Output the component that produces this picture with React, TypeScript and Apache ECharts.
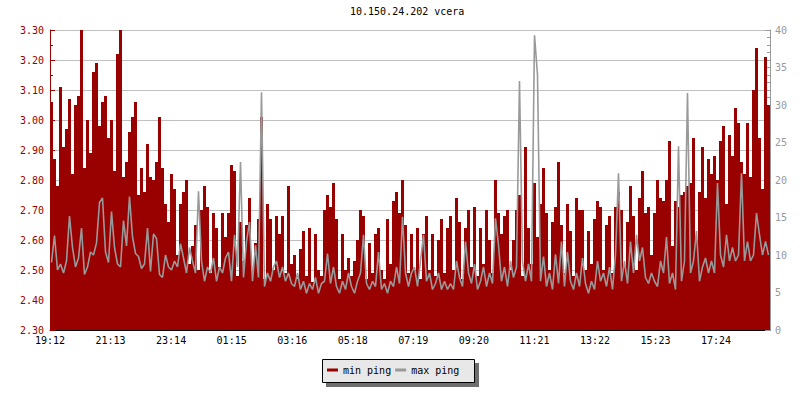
import React, { useEffect, useRef } from 'react';
import * as echarts from 'echarts';

const TITLE = '10.150.24.202 vcera';
const SERIES_NAMES = ['min ping', 'max ping'];
const TIME_LABELS = ['19:12', '21:13', '23:14', '01:15', '03:16', '05:18', '07:19', '09:20', '11:21', '13:22', '15:23', '17:24'];
const SPAN_MINUTES = 1440;
const SAMPLE_MINUTES = 6;
const LABEL_STEP_MINUTES = 121.1;

// min ping (ms), left axis, one value per 6-minute sample
const MIN_PING = [
  3.06, 2.87, 2.78, 3.11, 2.91, 2.97, 3.07, 2.82, 3.05, 3.08,
  3.30, 2.84, 3.00, 2.89, 3.16, 3.19, 2.98, 3.06, 3.08, 2.94,
  3.00, 2.83, 3.22, 3.30, 2.81, 2.86, 2.96, 3.01, 3.06, 2.75,
  2.84, 2.76, 2.92, 2.81, 2.80, 2.86, 3.01, 2.84, 2.72, 2.66,
  2.82, 2.77, 2.55, 2.72, 2.76, 2.80, 2.52, 2.58, 2.65, 2.50,
  2.70, 2.78, 2.71, 2.49, 2.69, 2.64, 2.51, 2.69, 2.61, 2.69,
  2.85, 2.83, 2.48, 2.66, 2.53, 2.65, 2.74, 2.50, 2.59, 2.67,
  3.01, 2.47, 2.72, 2.67, 2.50, 2.68, 2.62, 2.68, 2.49, 2.78,
  2.52, 2.55, 2.47, 2.57, 2.63, 2.48, 2.64, 2.46, 2.62, 2.50,
  2.48, 2.70, 2.75, 2.71, 2.79, 2.67, 2.47, 2.62, 2.50, 2.54,
  2.48, 2.53, 2.60, 2.70, 2.68, 2.47, 2.59, 2.49, 2.62, 2.64,
  2.50, 2.47, 2.67, 2.52, 2.73, 2.76, 2.69, 2.80, 2.65, 2.49,
  2.62, 2.50, 2.64, 2.47, 2.62, 2.68, 2.50, 2.62, 2.48, 2.60,
  2.67, 2.49, 2.64, 2.68, 2.50, 2.74, 2.66, 2.47, 2.64, 2.70,
  2.51, 2.71, 2.48, 2.64, 2.52, 2.70, 2.60, 2.49, 2.80, 2.69,
  2.62, 2.68, 2.70, 2.50, 2.60, 2.70, 2.75, 2.48, 2.91, 2.64,
  2.52, 2.79, 2.61, 2.72, 2.84, 2.69, 2.50, 2.66, 2.71, 2.86,
  2.65, 2.49, 2.72, 2.63, 2.48, 2.74, 2.70, 2.70, 2.50, 2.63,
  2.52, 2.67, 2.73, 2.71, 2.50, 2.65, 2.68, 2.49, 2.71, 2.76,
  2.70, 2.51, 2.66, 2.78, 2.68, 2.50, 2.74, 2.83, 2.69, 2.71,
  2.55, 2.69, 2.80, 2.74, 2.73, 2.80, 2.93, 2.58, 2.73, 2.71,
  2.75, 2.76, 2.78, 2.79, 2.94, 2.60, 2.76, 2.91, 2.74, 2.87,
  2.82, 2.88, 2.80, 2.93, 2.98, 2.72, 2.95, 2.88, 3.04, 2.99,
  2.86, 2.82, 2.99, 2.81, 3.10, 3.24, 2.94, 2.77, 3.21, 3.05,
];

// max ping (ms), right axis, one value per 6-minute sample
const MAX_PING = [
  9.0, 12.6, 8.0, 8.8, 7.6, 9.2, 15.2, 11.0, 8.4, 9.6,
  13.6, 7.4, 8.4, 10.4, 10.0, 11.6, 17.0, 17.6, 10.4, 9.0,
  15.8, 11.0, 8.8, 8.4, 14.6, 11.2, 17.8, 12.4, 10.2, 9.8,
  8.2, 8.8, 13.6, 7.8, 12.8, 12.2, 7.4, 7.0, 10.0, 8.4,
  8.0, 9.2, 8.4, 11.5, 9.6, 7.6, 11, 9.2, 7.6, 18.5,
  9.2, 6.5, 8.4, 7.6, 9.6, 6.5, 8.4, 7.6, 9.6, 10.4,
  6.5, 12.7, 8.4, 22.4, 7, 11.8, 14.4, 6.5, 11.3, 7,
  31.7, 5.8, 7.6, 6.5, 8.4, 9.2, 7, 8.4, 6.5, 7.6,
  6.2, 5.8, 7.6, 5.4, 6.5, 4.9, 6.2, 5.4, 7, 4.9,
  6.2, 6.5, 10.2, 6.2, 8.4, 5.8, 4.9, 6.5, 5.4, 7.6,
  5.8, 4.9, 6.5, 7.6, 12.7, 6.2, 5.4, 6.5, 5.8, 10.4,
  5.4, 6.2, 4.9, 6.5, 5.8, 8.4, 6.2, 15.1, 7.6, 5.8,
  7.6, 8.4, 5.8, 9.2, 12.7, 6.5, 7.6, 5.4, 6.2, 7.6,
  5.4, 6.5, 5.4, 6.2, 5.4, 9.2, 7, 5.8, 11.8, 7.6,
  6.2, 8.8, 5.4, 6.5, 8.4, 5.8, 7.6, 6.2, 14.9, 11.3,
  6.5, 8.4, 5.8, 9.2, 7, 8.4, 33.2, 9.2, 6.5, 8.8,
  6.5, 39.3, 34, 6.5, 9.8, 5.8, 7.6, 5.4, 10.1, 6.2,
  11.8, 5.8, 10.4, 6.5, 5.4, 7.6, 5.8, 9.6, 6.2, 4.9,
  6.5, 5.4, 9.2, 6.5, 7.6, 5.8, 8.4, 5.4, 10, 20.9,
  6.5, 9.2, 6.2, 11.8, 7.6, 12.7, 9.2, 11, 7, 6.2,
  7.6, 6.5, 5.8, 9.2, 7.6, 12.4, 6.2, 7.6, 5.4, 24.5,
  6.5, 9.2, 31.6, 7.6, 9.2, 13.2, 6.5, 8.4, 9.6, 7.6,
  9.2, 7.6, 19.6, 10, 8.4, 12.7, 9.2, 11, 9.2, 10,
  20.9, 9.2, 11.8, 9.2, 10, 15.6, 12.7, 10, 11.8, 10,
];

const RED = '#990000';
const GRAY = '#999999';
const GRID_GRAY = '#c0c0c0';
const MONO = '"DejaVu Sans Mono", "Liberation Mono", monospace';

export default function App() {
  const ref = useRef<HTMLDivElement>(null);

  useEffect(() => {
    if (!ref.current) return;
    const chart = echarts.init(ref.current, null, { renderer: 'svg' });
    const toX = (i: number) => i * SAMPLE_MINUTES + SAMPLE_MINUTES / 2;
    const minData = MIN_PING.map((v, i) => [toX(i), v]);
    const maxData = MAX_PING.map((v, i) => [toX(i), v]);

    chart.setOption({
      animation: false,
      backgroundColor: '#ffffff',
      title: {
        text: TITLE,
        left: 350,
        top: 6,
        padding: 0,
        textStyle: { fontFamily: MONO, fontSize: 10, fontWeight: 'normal', color: '#000000' },
      },
      graphic: [
        {
          type: 'rect',
          z: 0,
          shape: { x: 326, y: 363, width: 153, height: 24 },
          style: { fill: '#6e6e6e' },
        },
        {
          type: 'rect',
          z: 1,
          shape: { x: 322.5, y: 359.5, width: 152, height: 23 },
          style: { fill: '#e8e8e8', stroke: '#000000', lineWidth: 1 },
        },
      ],
      legend: {
        data: SERIES_NAMES,
        left: 327,
        top: 365,
        padding: 0,
        icon: 'rect',
        itemWidth: 11,
        itemHeight: 3,
        itemGap: 4,
        selectedMode: false,
        z: 10,
        textStyle: { fontFamily: MONO, fontSize: 10, color: '#000000' },
      },
      grid: { left: 50, right: 30, top: 30, bottom: 70, containLabel: false, outerBoundsMode: 'none' },
      xAxis: {
        type: 'value',
        min: 0,
        max: SPAN_MINUTES,
        interval: LABEL_STEP_MINUTES,
        axisLine: { show: true, onZero: false, lineStyle: { color: '#000000', width: 1 } },
        axisTick: { show: true, inside: true, length: 5, lineStyle: { color: '#000000' } },
        axisLabel: {
          color: '#000000',
          fontFamily: MONO,
          fontSize: 10,
          margin: 5,
          showMaxLabel: false,
          formatter: (v: number) => {
            const k = Math.round(v / LABEL_STEP_MINUTES);
            if (v >= SPAN_MINUTES - 1 || k >= TIME_LABELS.length) return '';
            return TIME_LABELS[k];
          },
        },
        splitLine: { show: false },
      },
      yAxis: [
        {
          type: 'value',
          position: 'left',
          min: 2.3,
          max: 3.3,
          interval: 0.1,
          axisLine: { show: true, lineStyle: { color: RED, width: 1 } },
          axisTick: { show: true, inside: true, length: 5, lineStyle: { color: RED } },
          minorTick: { show: true, splitNumber: 2, length: 3, lineStyle: { color: RED } },
          axisLabel: {
            color: RED,
            fontFamily: MONO,
            fontSize: 10,
            margin: 6,
            formatter: (v: number) => v.toFixed(2),
          },
          splitLine: { show: true, lineStyle: { color: GRID_GRAY, width: 1 } },
          minorSplitLine: { show: false },
        },
        {
          type: 'value',
          position: 'right',
          min: 0,
          max: 40,
          interval: 5,
          axisLine: { show: true, lineStyle: { color: GRAY, width: 1 } },
          axisTick: { show: true, inside: true, length: 5, lineStyle: { color: GRAY } },
          minorTick: { show: true, splitNumber: 5, length: 3, lineStyle: { color: GRAY } },
          axisLabel: { color: GRAY, fontFamily: MONO, fontSize: 10, margin: 5 },
          splitLine: { show: false },
        },
      ],
      series: [
        {
          name: SERIES_NAMES[0],
          type: 'bar',
          yAxisIndex: 0,
          data: minData,
          barWidth: 3,
          clip: true,
          itemStyle: { color: RED },
          emphasis: { disabled: true },
        },
        {
          name: SERIES_NAMES[1],
          type: 'line',
          yAxisIndex: 1,
          data: maxData,
          symbol: 'none',
          showSymbol: false,
          clip: true,
          lineStyle: { color: GRAY, width: 1.6 },
          itemStyle: { color: GRAY },
          emphasis: { disabled: true },
        },
      ],
    });

    return () => chart.dispose();
  }, []);

  return <div ref={ref} style={{ position: 'absolute', left: 0, top: 0, width: 800, height: 400 }} />;
}
